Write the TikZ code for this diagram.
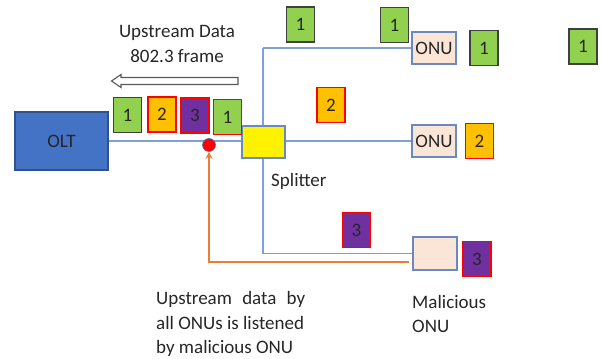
\documentclass[tikz,border=0pt]{standalone}
\usepackage{fontspec}
\setmainfont{Carlito}
\usetikzlibrary{arrows.meta}
\definecolor{oltblue}{HTML}{4472C4}
\definecolor{oltedge}{HTML}{2F528F}
\definecolor{linkblue}{HTML}{7F9FD6}
\definecolor{onuedge}{HTML}{6A89C0}
\definecolor{framegreen}{HTML}{92D050}
\definecolor{frameorange}{HTML}{FFC000}
\definecolor{framepurple}{HTML}{7030A0}
\definecolor{onupink}{HTML}{FBE5D6}
\definecolor{spyorange}{HTML}{ED7D31}
\definecolor{txt}{HTML}{262626}
\tikzset{
	pkt/.style={draw, line width=1.1pt, minimum width=28pt, minimum height=35pt, inner sep=0pt, text=txt},
	pkt1/.style={pkt, fill=framegreen, draw=black!75},
	pkt1r/.style={pkt, fill=framegreen, draw=red},
	pkt2/.style={pkt, fill=frameorange, draw=red},
	pkt3/.style={pkt, fill=framepurple, draw=red},
	onu/.style={draw=onuedge, line width=1.1pt, fill=onupink, minimum width=44pt, minimum height=32pt, inner sep=0pt, text=txt},
	link/.style={draw=linkblue, line width=1.2pt},
	lbl/.style={text=txt, inner sep=0pt}
}
\begin{document}
\begin{tikzpicture}[x=1pt, y=-1pt, font=\fontsize{19}{24.5}\selectfont]
					\useasboundingbox (0, 0) rectangle (601, 358);
					\node[draw=oltedge, line width=1.1pt, fill=oltblue, minimum width=93pt, minimum height=58pt, text=txt] (olt) at (61.5, 141) {OLT};
					\coordinate (vtop) at (263, 48);
					\coordinate (vbot) at (263, 253.5);
					\draw[link] (vtop) -- (vbot);
					\node[draw=onuedge, line width=1.1pt, fill=yellow, minimum width=43pt, minimum height=32pt, inner sep=0pt] (splitter) at (263.5, 142) {};
					\node[onu] (onu1) at (434, 48) {ONU};
					\node[onu] (onu2) at (434, 141) {ONU};
					\node[onu, minimum height=33pt] (mal) at (435, 253.5) {};
					\draw[link] (olt.east) -- (olt.east -| splitter.west);
					\draw[link] (splitter.east |- onu2.west) -- (onu2.west);
					\draw[link] (vtop) -- (onu1.west);
					\draw[link] (vbot) -- (mal.west);
					\node[circle, draw=oltblue, fill=red, line width=0.6pt, minimum width=11pt, minimum height=13pt, inner sep=0pt] (tap) at (209, 145) {};
					\coordinate (spy) at (409, 262);
					\draw[spyorange, line width=1.8pt, -{Stealth[length=7pt, width=7pt]}] (spy) -| (tap.south);
					\node[pkt1] (p1) at (127.5, 115) {1};
					\node[pkt2] (p2) at (162, 114.5) {2};
					\node[pkt3] (p3) at (195, 115.5) {3};
					\node[pkt1r] (p4) at (227.5, 117) {1};
					\node[pkt1] (u1) at (300.5, 24.5) {1};
					\node[pkt1] (u2) at (394.5, 25) {1};
					\node[pkt1] (u3) at (484, 48) {1};
					\node[pkt1] (u4) at (583, 46.5) {1};
					\node[pkt2] (v1) at (331, 105) {2};
					\node[pkt2] (v2) at (479.5, 141) {2};
					\node[pkt3] (w1) at (356.5, 230) {3};
					\node[pkt3] (w2) at (477, 259) {3};
					\draw[draw=black!65, line width=1.1pt, fill=white] (238, 77.5) -- (121, 77.5) -- (121, 74.5) -- (111.5, 81) -- (121, 87.5) -- (121, 84.5) -- (238, 84.5) -- cycle;
					\node[lbl, anchor=base] (hd1) at (177, 38) {Upstream Data};
					\node[lbl, anchor=base] (hd2) at (177, 63) {802.3 frame};
					\node[lbl, anchor=base west] (splt) at (271, 186) {Splitter};
					\node[lbl, anchor=north west, align=left] (mall) at (412, 295) {Malicious\\ONU};
					\node[lbl, anchor=north west, align=left] (cap) at (156, 291.5) {\makebox[149pt][s]{Upstream data by}\\all ONUs is listened\\by malicious ONU};
\end{tikzpicture}
\end{document}
